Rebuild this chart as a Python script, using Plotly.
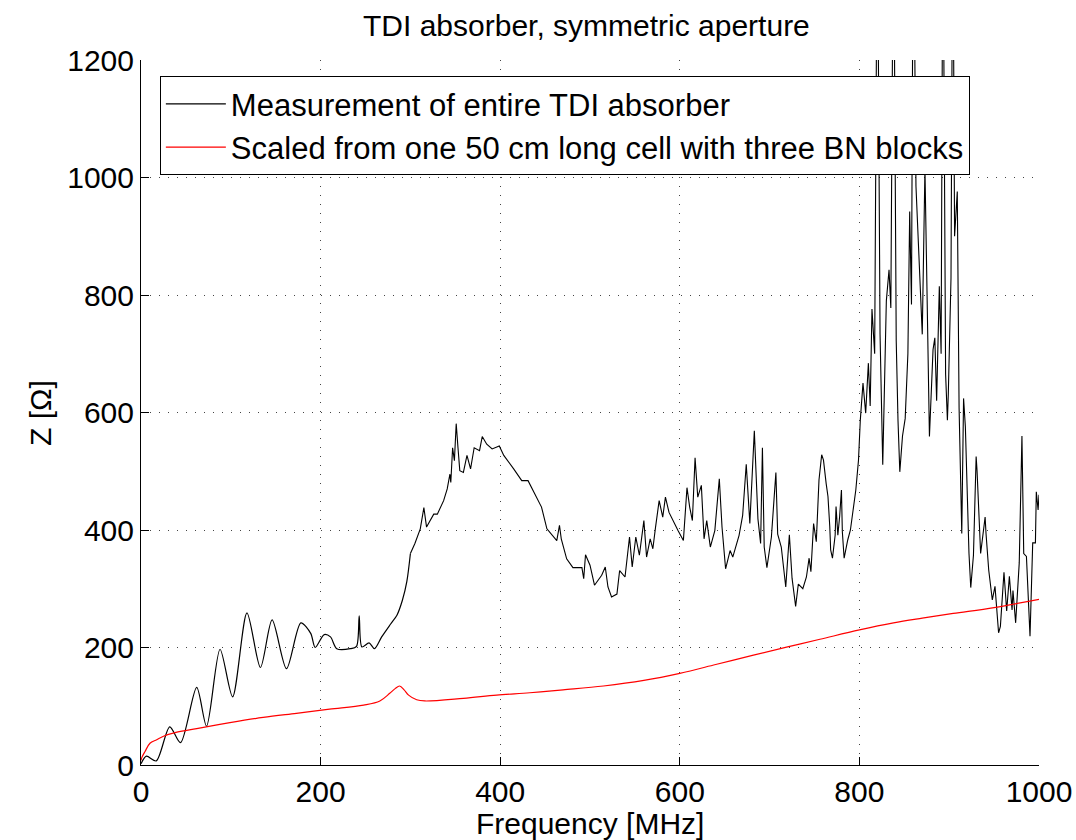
import plotly.graph_objects as go

# Measured impedance of the whole TDI absorber (black)
freq_meas = [0, 6, 17, 32, 44, 62, 73, 88, 102, 118, 133, 146, 162, 178, 189, 194, 204, 211, 218, 233,
             240, 243, 246, 254, 260, 268, 278, 285, 291, 296, 300,
             305, 311, 315, 318, 326, 330, 337, 341, 344, 345, 347, 349, 351, 353, 355, 359, 363, 367, 371,
             377, 380, 385, 391, 399, 404, 415, 424, 431, 437, 446, 452, 463, 466, 468, 474, 481, 491, 493,
             495, 500, 505, 513, 517, 520, 524, 530, 533, 539, 544, 547, 551, 555, 560, 563, 567, 570, 573,
             577, 581, 584, 588, 593, 598, 604, 608, 611, 614, 617, 620, 624, 627, 630, 634, 639, 644, 647,
             651, 656, 659, 666, 670, 674, 678, 683, 687, 690, 692, 694, 697, 702, 707, 709, 713, 718, 722,
             725, 729, 732, 737, 741, 744, 746, 749, 752, 753, 755, 758, 760, 763, 765, 767, 768, 770, 773,
             774, 776, 778, 780, 781, 783, 787, 790, 793, 796, 799, 801, 804, 807, 810, 812, 814, 817, 820,
             823, 826, 830, 833, 835, 838, 841, 843, 845, 848, 851, 854, 856, 858, 860, 863, 866, 869, 870,
             873, 876, 878, 882, 884, 886, 889, 891, 893, 896, 898, 899, 902, 904, 906, 909, 911, 914, 916,
             918, 920, 922, 924, 927, 930, 931, 935, 940, 941, 944, 948, 951, 955, 957, 961, 964, 967, 970,
             971, 974, 978, 981, 983, 986, 990, 993, 996, 997, 999, 1000]
z_meas = [2, 15, 7, 65, 38, 132, 66, 197, 116, 259, 166, 247, 164, 242, 224, 200, 222, 218, 198, 198,
          202, 254, 201, 208, 198, 218, 240, 255, 280, 312, 360,
          377, 402, 438, 405, 427, 427, 450, 470, 495, 481, 540, 518, 581, 540, 501, 498, 527, 504, 540,
          535, 559, 546, 538, 543, 527, 504, 484, 484, 467, 439, 402, 382, 408, 385, 351, 336, 336, 317,
          358, 340, 306, 323, 337, 303, 286, 291, 331, 320, 388, 337, 388, 357, 416, 354, 385, 368, 405,
          450, 422, 456, 430, 413, 399, 382, 472, 439, 416, 523, 456, 476, 385, 416, 371, 399, 487, 405,
          334, 365, 354, 391, 425, 512, 411, 569, 419, 377, 540, 371, 336, 388, 498, 393, 371, 303, 392,
          318, 270, 308, 300, 320, 352, 329, 411, 380, 408, 485, 528, 519, 479, 457, 406, 366, 352, 391,
          440, 391, 423, 468, 397, 352, 383, 400, 434, 468, 519, 587, 650, 599, 684, 611, 776, 700, 1500,
          733, 511, 790, 843, 778, 1500, 722, 586, 499, 560, 590, 700, 942, 784, 1500, 985, 870, 750, 733,
          1015, 700, 559, 707, 727, 620, 815, 700, 1500, 665, 587, 631, 829, 1500, 900, 976, 608, 394, 624,
          576, 463, 361, 302, 357, 525, 501, 360, 422, 394, 332, 281, 304, 225, 236, 328, 262, 321, 264,
          297, 242, 344, 560, 360, 355, 219, 378, 378, 465, 434, 460]

# Scaled from one 50 cm cell with three BN blocks (red)
freq_cell = [0, 1, 4.5, 10, 17.5, 25, 40, 62, 99, 136, 173, 210, 248, 266, 277, 283, 288, 293, 298, 307,
             316, 359, 396, 433, 470, 515, 560, 600, 640, 682, 720, 756, 800, 838, 870, 904.5, 950, 1000]
z_cell = [8, 13, 23, 37, 43, 49, 56, 62, 72, 81, 88, 95, 102, 109, 122, 130, 134.5, 128, 119, 111,
          109, 113.5, 119, 123, 128, 134.5, 144, 156, 171, 187, 201, 214, 230, 242, 250, 258, 268, 282]

FONT = "Liberation Sans, Arial, Helvetica, sans-serif"

# smooth low-frequency ripple, raw trace above 300 MHz
split = freq_meas.index(300)

fig = go.Figure()
fig.add_trace(go.Scatter(
    x=freq_meas[:split + 1], y=z_meas[:split + 1], mode="lines",
    line=dict(color="black", width=1.2, shape="spline", smoothing=0.8),
    name="Measurement of entire TDI absorber", legendgroup="meas"))
fig.add_trace(go.Scatter(
    x=freq_meas[split:], y=z_meas[split:], mode="lines",
    line=dict(color="black", width=1.1),
    name="Measurement of entire TDI absorber", legendgroup="meas", showlegend=False))
fig.add_trace(go.Scatter(
    x=freq_cell, y=z_cell, mode="lines", line=dict(color="red", width=1.2, shape="spline"),
    name="Scaled from one 50 cm long cell with three BN blocks"))

axis_style = dict(
    showline=True, linecolor="black", linewidth=1,
    ticks="inside", ticklen=8, tickcolor="black",
    showgrid=True, gridcolor="#444", gridwidth=1, griddash="1px,8px",
    zeroline=False, automargin=False, ticklabelstandoff=0,
    tickfont=dict(size=30, color="black", family=FONT),
)

fig.update_layout(
    width=1076, height=840,
    margin=dict(l=141, r=37, t=60, b=75),
    paper_bgcolor="white", plot_bgcolor="white",
    font=dict(family=FONT, color="black", size=30),
    title=dict(text="TDI absorber, symmetric aperture", x=0.545, xanchor="center",
               y=0.97, yanchor="middle", font=dict(size=30)),
    legend=dict(x=0.021, y=0.977, xanchor="left", yanchor="top",
                bgcolor="white", bordercolor="black", borderwidth=1,
                font=dict(size=31), itemwidth=60, tracegroupgap=0),
    showlegend=True,
    annotations=[
        dict(text="Frequency [MHz]", xref="paper", yref="paper", x=0.5, y=-0.083,
             xanchor="center", yanchor="middle", showarrow=False, font=dict(size=30)),
        dict(text="Z [Ω]", xref="paper", yref="paper", x=-0.112, y=0.5, textangle=-90,
             xanchor="center", yanchor="middle", showarrow=False, font=dict(size=30)),
    ],
)

fig.update_xaxes(axis_style, range=[0, 1000], dtick=200)
fig.update_yaxes(axis_style, range=[0, 1200], dtick=200)

fig.write_html("out.html", config={"displayModeBar": False},
               post_script="document.body.style.margin='0';")
